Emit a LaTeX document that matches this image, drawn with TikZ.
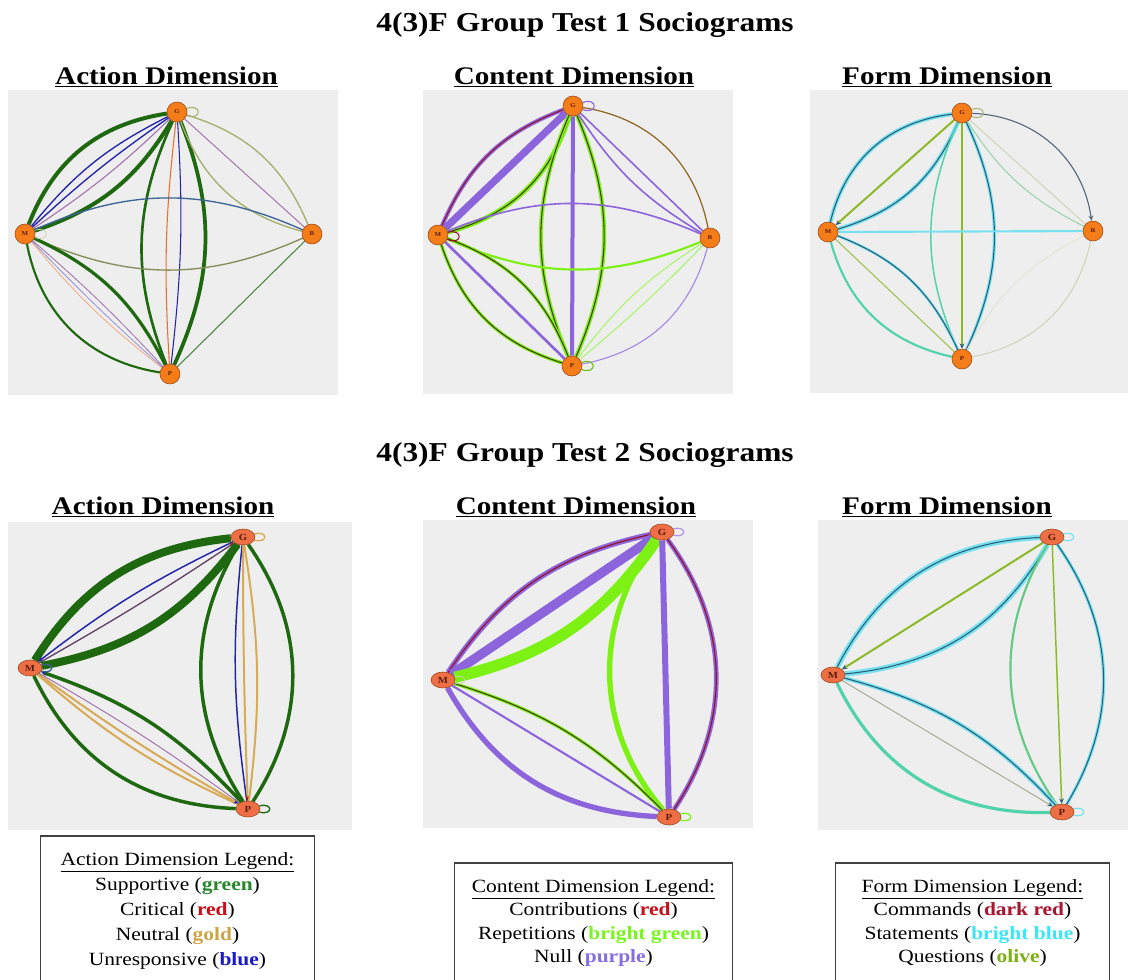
\documentclass[tikz,border=0pt]{standalone}
\usepackage{fontspec}
\setmainfont{Liberation Serif}[FakeStretch=1.15]
\usetikzlibrary{shapes.geometric, arrows.meta, positioning, backgrounds}

\definecolor{panelgrey}{RGB}{238,238,238}
\definecolor{nodeorange}{RGB}{245,125,25}
\definecolor{nodesalmon}{RGB}{238,110,70}
\definecolor{nodeedge}{RGB}{150,70,20}
\definecolor{nodetext}{RGB}{90,30,10}
\definecolor{supgreen}{RGB}{30,105,15}
\definecolor{unblue}{RGB}{35,35,170}
\definecolor{neugold}{RGB}{215,170,85}
\definecolor{critorange}{RGB}{235,110,45}
\definecolor{thinpurple}{RGB}{160,110,170}
\definecolor{paleolive}{RGB}{165,175,110}
\definecolor{slateblue}{RGB}{60,100,150}
\definecolor{nullpurple}{RGB}{140,100,220}
\definecolor{repgreen}{RGB}{125,240,20}
\definecolor{contred}{RGB}{150,20,40}
\definecolor{darkline}{RGB}{70,60,20}
\definecolor{brownline}{RGB}{140,100,30}
\definecolor{statcyan}{RGB}{120,225,240}
\definecolor{tealline}{RGB}{40,95,120}
\definecolor{slateline}{RGB}{80,100,120}
\definecolor{qolive}{RGB}{140,185,40}
\definecolor{formteal}{RGB}{80,210,170}
\definecolor{faintolive}{RGB}{205,210,180}
\definecolor{leggreen}{RGB}{40,135,45}
\definecolor{legred}{RGB}{200,15,25}
\definecolor{leggold}{RGB}{205,165,70}
\definecolor{legblue}{RGB}{25,25,200}
\definecolor{legbright}{RGB}{120,245,30}
\definecolor{legpurple}{RGB}{135,110,225}
\definecolor{legdarkred}{RGB}{170,20,45}
\definecolor{legcyan}{RGB}{60,230,245}
\definecolor{legolive}{RGB}{125,175,20}

\begin{document}
\begin{tikzpicture}[
    x=0.75pt, y=-0.75pt,
    panel/.style={fill=panelgrey},
    person/.style={circle, draw=nodeedge, fill=nodeorange, minimum size=15pt, inner sep=0pt, text=nodetext, font=\fontsize{4.5}{5}\selectfont\bfseries},
    bigperson/.style={ellipse, draw=nodeedge, fill=nodesalmon, minimum width=18pt, minimum height=12pt, inner sep=0pt, text=nodetext, font=\fontsize{7}{8}\selectfont\bfseries},
    title/.style={anchor=base, font=\fontsize{20.5}{24}\selectfont\bfseries},
    header/.style={anchor=base, font=\fontsize{19}{22}\selectfont\bfseries},
    legend/.style={rectangle, draw=black!75, line width=0.8pt, fill=white, align=center, minimum width=206pt, font=\fontsize{14}{18.75}\selectfont},
    tie/.style={line width=#1},
    glow/.style args={#1/#2}{preaction={draw=#1, line width=#2}},
    tipend/.style={-{Stealth[length=4pt, width=3.5pt, color=#1]}},
    tipstart/.style={{Stealth[length=4pt, width=3.5pt, color=#1]}-},
    selfloop/.style={min distance=7pt, looseness=6}
]

\useasboundingbox (0,0) rectangle (1128,979);

% Titles and headers
\node[title] (title1) at (585,31) {4(3)F Group Test 1 Sociograms};
\node[title] (title2) at (585,461) {4(3)F Group Test 2 Sociograms};
\node[header] (acthead1) at (166.5,84) {\underline{Action Dimension}};
\node[header] (conhead1) at (574,84) {\underline{Content Dimension}};
\node[header] (frmhead1) at (947,84) {\underline{Form Dimension}};
\node[header] (acthead2) at (163,514) {\underline{Action Dimension}};
\node[header] (conhead2) at (576,514) {\underline{Content Dimension}};
\node[header] (frmhead2) at (947,514) {\underline{Form Dimension}};

% Grey panels
\begin{scope}[on background layer]
\fill[panel] (8,90) rectangle (338,395);
\fill[panel] (423,90) rectangle (733,394);
\fill[panel] (810,90) rectangle (1128,393);
\fill[panel] (8,522) rectangle (352,830);
\fill[panel] (423,520) rectangle (753,828);
\fill[panel] (818,520) rectangle (1128,830);
\end{scope}

% Test 1 members
\node[person] (a1G) at (177,112) {G};
\node[person] (a1M) at (25,234) {M};
\node[person] (a1R) at (312,234) {R};
\node[person] (a1P) at (170,374) {P};
\node[person] (c1G) at (573,106) {G};
\node[person] (c1M) at (438,235) {M};
\node[person] (c1R) at (710,238) {R};
\node[person] (c1P) at (572,366) {P};
\node[person] (f1G) at (962,113) {G};
\node[person] (f1M) at (828,232) {M};
\node[person] (f1R) at (1093,231) {R};
\node[person] (f1P) at (962,359) {P};

% Test 2 members
\node[bigperson] (a2G) at (243,537) {G};
\node[bigperson] (a2M) at (30,668) {M};
\node[bigperson] (a2P) at (248,809) {P};
\node[bigperson] (c2G) at (662,532) {G};
\node[bigperson] (c2M) at (443,680) {M};
\node[bigperson] (c2P) at (669,817) {P};
\node[bigperson] (f2G) at (1052,537) {G};
\node[bigperson] (f2M) at (833,675) {M};
\node[bigperson] (f2P) at (1062,812) {P};

\begin{scope}[on background layer]
% Action, test 1
\draw[tie=3pt, supgreen] (a1M) to[bend left=30] (a1G);
\draw[tie=1pt, unblue] (a1M) to[bend left=12] (a1G);
\draw[tie=1pt, unblue] (a1M) to[bend left=4] (a1G);
\draw[tie=0.8pt, thinpurple] (a1M) to[bend right=5] (a1G);
\draw[tie=3pt, supgreen] (a1M) to[bend right=20] (a1G);
\draw[tie=2pt, supgreen] (a1G) to[bend right=23] (a1P);
\draw[tie=0.8pt, critorange] (a1G) to[bend right=5] (a1P);
\draw[tie=0.8pt, unblue] (a1G) to[bend left=5] (a1P);
\draw[tie=2.8pt, supgreen] (a1G) to[bend left=23] (a1P);
\draw[tie=1pt, paleolive] (a1G) to[bend left=25] (a1R);
\draw[tie=0.7pt, thinpurple] (a1G) -- (a1R);
\draw[tie=1pt, paleolive] (a1G) to[bend right=27] (a1R);
\draw[tie=1pt, slateblue] (a1M) to[bend left=24] (a1R);
\draw[tie=1pt, paleolive!80!black] (a1M) to[bend right=24] (a1R);
\draw[tie=1.6pt, supgreen] (a1M) to[bend right=35] (a1P);
\draw[tie=0.6pt, critorange!60] (a1M) to[bend right=6] (a1P);
\draw[tie=0.6pt, unblue!50] (a1M) to[bend right=2] (a1P);
\draw[tie=0.6pt, thinpurple] (a1M) to[bend left=3] (a1P);
\draw[tie=2.4pt, supgreen] (a1M) to[bend left=19] (a1P);
\draw[tie=0.8pt, supgreen!80] (a1R) -- (a1P);
\draw[tie=0.8pt, paleolive, selfloop] (a1G) to[out=20, in=-20] (a1G);
\draw[tie=0.5pt, faintolive, selfloop] (a1M) to[out=20, in=-20] (a1M);

% Content, test 1
\draw[tie=0.8pt, contred, glow=nullpurple/3pt] (c1M) to[bend left=23] (c1G);
\draw[tie=5.5pt, nullpurple] (c1M) -- (c1G);
\draw[tie=0.8pt, darkline, glow=repgreen/3.5pt] (c1M) to[bend right=28] (c1G);
\draw[tie=0.8pt, darkline, glow=repgreen/3pt] (c1G) to[bend right=23] (c1P);
\draw[tie=3pt, nullpurple] (c1G) -- (c1P);
\draw[tie=0.8pt, darkline, glow=repgreen/3pt] (c1G) to[bend left=23] (c1P);
\draw[tie=0.9pt, brownline] (c1G) to[bend left=35] (c1R);
\draw[tie=1.2pt, nullpurple] (c1G) -- (c1R);
\draw[tie=1.2pt, nullpurple] (c1G) to[bend right=13] (c1R);
\draw[tie=1.2pt, nullpurple] (c1M) to[bend left=23] (c1R);
\draw[tie=1.6pt, repgreen] (c1M) to[bend right=23] (c1R);
\draw[tie=0.8pt, darkline, glow=repgreen/2.5pt] (c1M) to[bend right=27] (c1P);
\draw[tie=2pt, nullpurple] (c1M) -- (c1P);
\draw[tie=0.8pt, darkline, glow=repgreen/2.5pt] (c1M) to[bend left=24] (c1P);
\draw[tie=0.7pt, repgreen!70] (c1R) to[bend right=10] (c1P);
\draw[tie=0.7pt, repgreen!70] (c1R) to[bend left=3] (c1P);
\draw[tie=0.8pt, nullpurple!80] (c1R) to[bend left=32] (c1P);
\draw[tie=0.8pt, nullpurple, selfloop] (c1G) to[out=20, in=-20] (c1G);
\draw[tie=0.8pt, contred, selfloop] (c1M) to[out=15, in=-25] (c1M);
\draw[tie=0.8pt, repgreen!80!black, selfloop] (c1P) to[out=20, in=-20] (c1P);

% Form, test 1
\draw[tie=0.8pt, tealline, glow=statcyan/3pt] (f1M) to[bend left=35] (f1G);
\draw[tie=1.5pt, qolive, tipstart=tealline] (f1M) -- (f1G);
\draw[tie=0.8pt, tealline, glow=statcyan/3pt] (f1M) to[bend right=25] (f1G);
\draw[tie=1.1pt, formteal] (f1G) to[bend right=24] (f1P);
\draw[tie=1.5pt, qolive, tipend=tealline] (f1G) -- (f1P);
\draw[tie=0.8pt, tealline, glow=statcyan/2.5pt] (f1G) to[bend left=25] (f1P);
\draw[tie=0.8pt, slateline, tipend=slateline] (f1G) to[bend left=40] (f1R);
\draw[tie=0.7pt, faintolive] (f1G) -- (f1R);
\draw[tie=0.8pt, formteal!40!faintolive] (f1G) to[bend right=15] (f1R);
\draw[tie=1.6pt, statcyan] (f1M) -- (f1R);
\draw[tie=1.6pt, formteal] (f1M) to[bend right=31] (f1P);
\draw[tie=0.8pt, qolive!70!faintolive] (f1M) -- (f1P);
\draw[tie=0.8pt, tealline, glow=statcyan/2pt] (f1M) to[bend left=22] (f1P);
\draw[tie=0.7pt, faintolive] (f1R) to[bend left=33] (f1P);
\draw[tie=0.7pt, faintolive!60!white] (f1R) to[bend right=17] (f1P);
\draw[tie=0.7pt, paleolive, selfloop] (f1G) to[out=20, in=-20] (f1G);

% Action, test 2
\draw[tie=6pt, supgreen] (a2M) to[bend left=26] (a2G);
\draw[tie=1.1pt, unblue, tipstart=unblue] (a2M) to[bend left=6] (a2G);
\draw[tie=1pt, thinpurple!60!black, tipend=legred] (a2M) to[bend right=2] (a2G);
\draw[tie=6pt, supgreen] (a2M) to[bend right=21] (a2G);
\draw[tie=2.6pt, supgreen] (a2G) to[bend right=32] (a2P);
\draw[tie=1.1pt, unblue] (a2G) to[bend right=7] (a2P);
\draw[tie=1.5pt, neugold, tipend=legred] (a2G) to[bend right=1] (a2P);
\draw[tie=1.5pt, neugold] (a2G) to[bend left=8] (a2P);
\draw[tie=2.6pt, supgreen] (a2G) to[bend left=34] (a2P);
\draw[tie=2.6pt, supgreen] (a2M) to[bend right=31] (a2P);
\draw[tie=1.5pt, neugold] (a2M) to[bend right=8] (a2P);
\draw[tie=1.5pt, neugold, tipend=unblue] (a2M) to[bend right=3] (a2P);
\draw[tie=0.7pt, thinpurple] (a2M) to[bend left=3] (a2P);
\draw[tie=2.6pt, supgreen, tipstart=unblue] (a2M) to[bend left=14] (a2P);
\draw[tie=1pt, neugold, selfloop] (a2G) to[out=15, in=-15] (a2G);
\draw[tie=1pt, slateblue, selfloop] (a2M) to[out=15, in=-15] (a2M);
\draw[tie=1pt, supgreen, selfloop] (a2P) to[out=15, in=-15] (a2P);

% Content, test 2
\draw[tie=0.9pt, contred, glow=nullpurple/4pt] (c2M) to[bend left=22] (c2G);
\draw[tie=7pt, nullpurple] (c2M) -- (c2G);
\draw[tie=8.5pt, repgreen] (c2M) to[bend right=21] (c2G);
\draw[tie=4pt, repgreen] (c2G) to[bend right=39] (c2P);
\draw[tie=4.5pt, nullpurple] (c2G) -- (c2P);
\draw[tie=0.9pt, contred, glow=nullpurple/3.5pt] (c2G) to[bend left=35] (c2P);
\draw[tie=0.8pt, darkline, glow=repgreen/2.5pt] (c2M) to[bend left=14] (c2P);
\draw[tie=1.6pt, nullpurple] (c2M) -- (c2P);
\draw[tie=4pt, nullpurple] (c2M) to[bend right=29] (c2P);
\draw[tie=0.9pt, nullpurple!70, selfloop] (c2G) to[out=15, in=-15] (c2G);
\draw[tie=0.9pt, repgreen, selfloop] (c2P) to[out=15, in=-15] (c2P);
\draw[tie=0.6pt, faintolive, selfloop] (c2M) to[out=15, in=-15] (c2M);

% Form, test 2
\draw[tie=0.8pt, tealline, glow=statcyan/4pt] (f2M) to[bend left=30] (f2G);
\draw[tie=1.5pt, qolive, tipstart=tealline] (f2M) -- (f2G);
\draw[tie=0.8pt, tealline, glow=statcyan/4pt] (f2M) to[bend right=27] (f2G);
\draw[tie=1.6pt, formteal!70!qolive] (f2G) to[bend right=33] (f2P);
\draw[tie=1.1pt, qolive, tipend=tealline] (f2G) -- (f2P);
\draw[tie=0.8pt, tealline, glow=statcyan/2.5pt] (f2G) to[bend left=33] (f2P);
\draw[tie=0.8pt, tealline, glow=statcyan/3pt] (f2M) to[bend left=16] (f2P);
\draw[tie=0.7pt, faintolive!80!black, tipend=tealline] (f2M) -- (f2P);
\draw[tie=2.4pt, formteal] (f2M) to[bend right=33] (f2P);
\draw[tie=0.9pt, statcyan, selfloop] (f2G) to[out=15, in=-15] (f2G);
\draw[tie=0.9pt, statcyan, selfloop] (f2P) to[out=15, in=-15] (f2P);
\end{scope}

% Legends
\node[legend, minimum height=112.5pt] (actlegend) at (177.5,911) {\underline{Action Dimension Legend:}\\
  Supportive (\textbf{\textcolor{leggreen}{green}})\\
  Critical (\textbf{\textcolor{legred}{red}})\\
  Neutral (\textbf{\textcolor{leggold}{gold}})\\
  Unresponsive (\textbf{\textcolor{legblue}{blue}})};
\node[legend, minimum width=208pt, minimum height=90pt, font=\fontsize{14}{17.5}\selectfont] (conlegend) at (593.5,923) {\underline{Content Dimension Legend:}\\
  Contributions (\textbf{\textcolor{legred}{red}})\\
  Repetitions (\textbf{\textcolor{legbright}{bright green}})\\
  Null (\textbf{\textcolor{legpurple}{purple}})};
\node[legend, minimum height=90pt, font=\fontsize{14}{17.5}\selectfont] (frmlegend) at (972.5,923) {\underline{Form Dimension Legend:}\\
  Commands (\textbf{\textcolor{legdarkred}{dark red}})\\
  Statements (\textbf{\textcolor{legcyan}{bright blue}})\\
  Questions (\textbf{\textcolor{legolive}{olive}})};

\end{tikzpicture}
\end{document}
